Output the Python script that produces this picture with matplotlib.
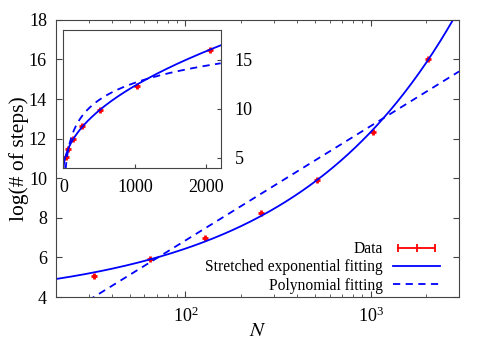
import numpy as np
import matplotlib
matplotlib.use('Agg')
import matplotlib.pyplot as plt
from matplotlib.lines import Line2D
from matplotlib.legend_handler import HandlerLine2D
from matplotlib.ticker import LogLocator, NullFormatter

plt.rcParams['font.family'] = ['Liberation Serif', 'DejaVu Serif']
plt.rcParams['mathtext.fontset'] = 'stix'

# data
N = [32, 64, 128, 256, 512, 1024, 2048]
log_steps = [5.08, 5.92, 6.96, 8.25, 9.9, 12.32, 16.0]

# fit parameters (estimated from the drawn curves)
se_a, se_b, se_c = 3.63, 0.295, 0.49   # a + b*N^c
poly_a, poly_k = -4.70, 2.51           # a + k*ln(N)

labels = ['Data', 'Stretched exponential fitting', 'Polynomial fitting']


def stretched(n):
    return se_a + se_b * n ** se_c


def poly(n):
    return poly_a + poly_k * np.log(n)


fig = plt.figure(figsize=(4.91, 3.43), dpi=100)
ax = fig.add_axes([0.114, 0.134, 0.821, 0.808])
edge = '#444444'

n_main = np.logspace(np.log10(20), np.log10(3000), 400)
ax.plot(N, log_steps, ls='none', marker='+', ms=4, mew=2, color='red')
ax.plot(n_main, stretched(n_main), color='blue', lw=1.3)
ax.plot(n_main, poly(n_main), color='blue', lw=1.3, dashes=(4, 3))
ax.set_xscale('log')
ax.set_xlim(20, 3000)
ax.set_ylim(4, 18)
ax.set_yticks(np.arange(4, 19, 2))
ax.xaxis.set_minor_locator(LogLocator(base=10, subs=np.arange(2, 10)))
ax.xaxis.set_minor_formatter(NullFormatter())
ax.tick_params(which='both', direction='in', top=True, right=True,
               labelsize=13, color=edge)
ax.tick_params(which='major', length=4)
ax.tick_params(which='minor', length=2.5)
ax.tick_params(axis='y', pad=6.5)
ax.tick_params(axis='x', pad=7)
for s in ax.spines.values():
    s.set_color(edge)
ax.set_ylabel('log(# of steps)', fontsize=15.5)
ax.yaxis.set_label_coords(-0.067, 0.5)
ax.set_xlabel('$N$', fontsize=15)
ax.xaxis.set_label_coords(0.5, -0.09)

# legend in gnuplot style
h_data = Line2D([], [], color='red', lw=1.3, marker='|', ms=6, mew=1.3)
h_se = Line2D([], [], color='blue', lw=1.3)
h_poly = Line2D([], [], color='blue', lw=1.3, dashes=(4, 3))
ax.legend([h_data, h_se, h_poly], labels, loc='lower right',
          bbox_to_anchor=(0.953, 0.012), frameon=False, markerfirst=False,
          fontsize=11.2, handlelength=3.0, handletextpad=0.7,
          labelspacing=0.15, borderpad=0, borderaxespad=0,
          handler_map={h_data: HandlerLine2D(numpoints=3)})

# inset
ins = fig.add_axes([0.1293, 0.511, 0.3202, 0.4015])
n_lin = np.linspace(0.5, 2200, 800)
ins.plot(N, log_steps, ls='none', marker='+', ms=4, mew=2, color='red')
ins.plot(n_lin, stretched(n_lin), color='blue', lw=1.3)
ins.plot(n_lin, poly(n_lin), color='blue', lw=1.3, dashes=(4, 3))
ins.set_xlim(0, 2200)
ins.set_ylim(4, 18)
ins.set_xticks([0, 1000, 2000])
ins.set_yticks([5, 10, 15])
ins.yaxis.tick_right()
ins.tick_params(direction='in', length=3, labelsize=13, color=edge,
                left=False, top=False)
ins.tick_params(axis='y', pad=10)
ins.tick_params(axis='x', pad=8)
for s in ins.spines.values():
    s.set_color(edge)

fig.savefig('out.png', dpi=100)
